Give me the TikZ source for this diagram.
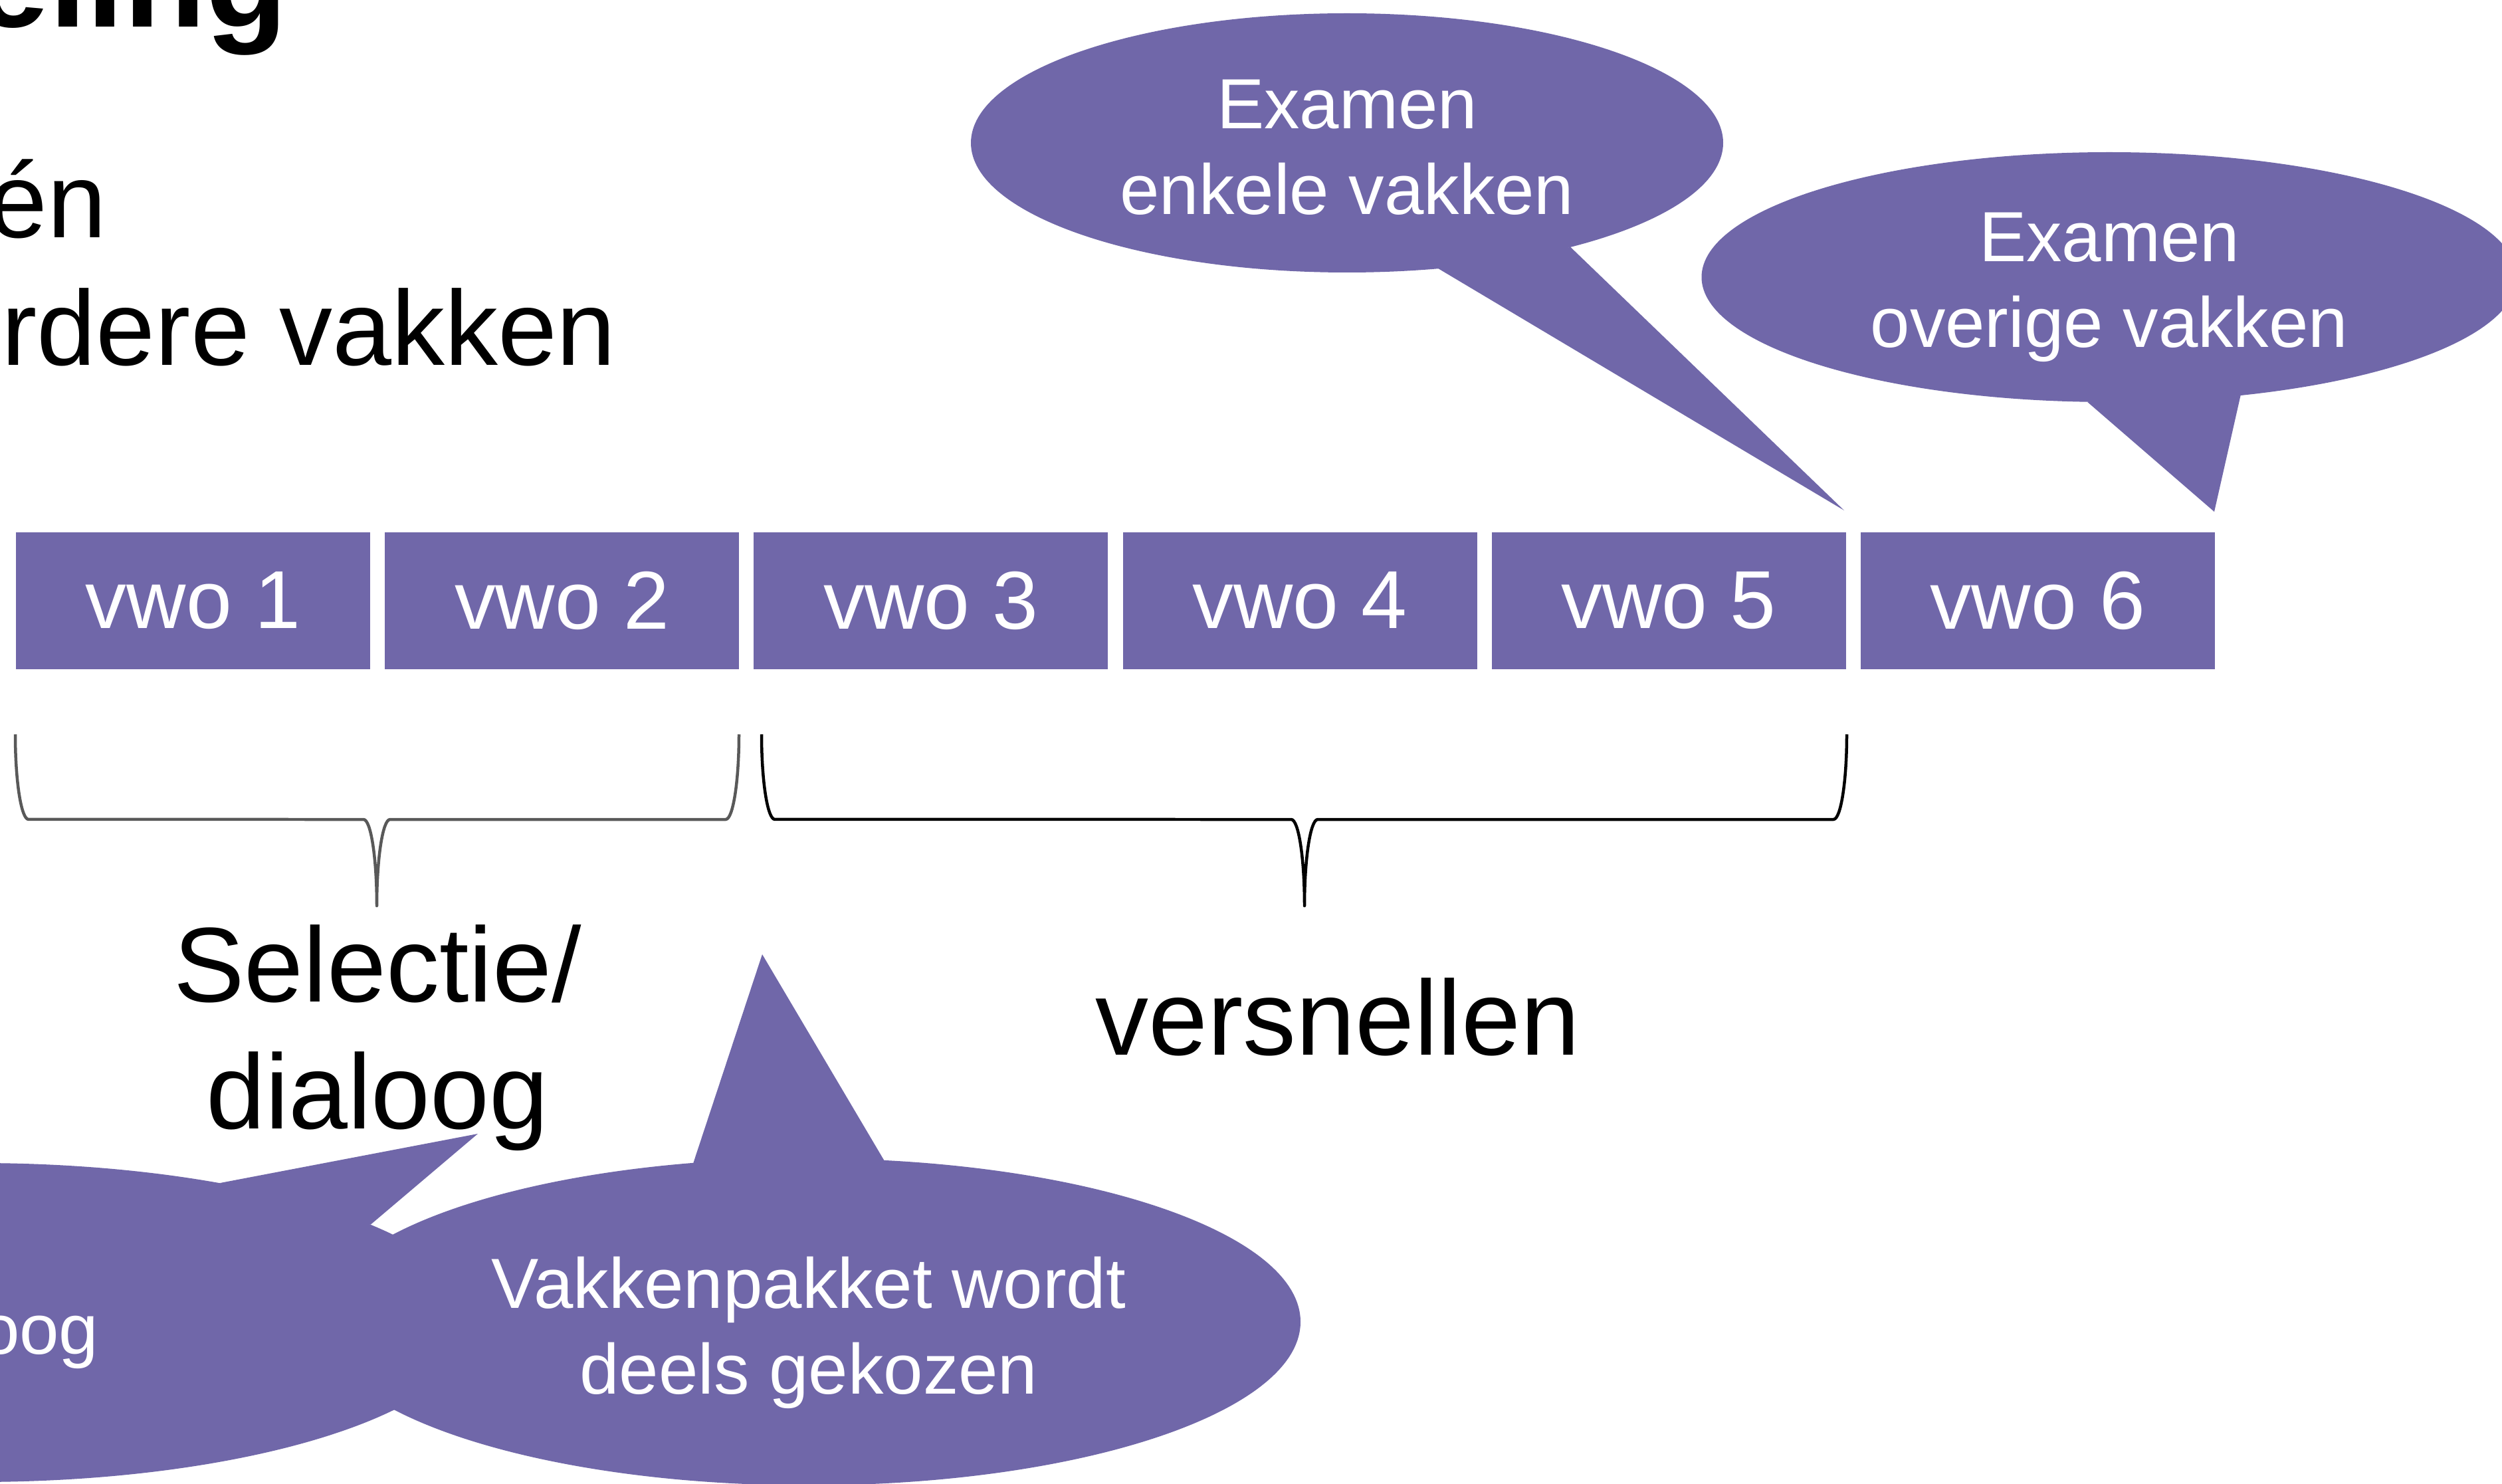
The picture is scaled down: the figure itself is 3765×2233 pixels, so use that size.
\documentclass[tikz,border=0pt]{standalone}
\usepackage{fontspec}
\setmainfont{Liberation Sans}
\usepackage{tikz}
\usetikzlibrary{
  shapes.geometric,
  positioning
}
\definecolor{paars}{RGB}{112,103,169}
\definecolor{grijs}{RGB}{89,89,89}
\tikzset{
  jaar/.style={fill=paars, text=white, minimum width=53.3mm, minimum height=20.6mm,
    inner sep=0pt, outer sep=0pt, font=\fontsize{35.2pt}{42pt}\selectfont},
  ballon/.style={ellipse, fill=paars, inner sep=0pt, outer sep=0pt},
  ballontekst/.style={text=white, inner sep=0pt, align=center,
    font=\fontsize{30.4pt}{36.7pt}\selectfont},
  groot/.style={inner sep=0pt, align=center, font=\fontsize{45.5pt}{54.3pt}\selectfont},
  accolade/.style={line width=0.45mm, line join=round}
}

\begin{document}
\begin{tikzpicture}[x=0.1mm, y=0.1mm]
    \useasboundingbox (0,0) rectangle (3765,-2233);
    \clip (0,0) rectangle (3765,-2233);

    % afgesneden tekst links boven
    \node[inner sep=0pt, anchor=base east, font=\fontsize{57.5pt}{60pt}\selectfont\bfseries] (kop) at (434,-41) {eling};
    \node[groot, anchor=base east] (regel1) at (161,-358) {én};
    \node[groot, anchor=base west] (regel2) at (2,-550) {rdere vakken};

    % leerjaren
    \node[jaar] (v1) at (290.5,-904) {vwo 1};
    \node[jaar, right=2.22mm of v1] (v2) {vwo 2};
    \node[jaar, right=2.22mm of v2] (v3) {vwo 3};
    \node[jaar, right=2.22mm of v3] (v4) {vwo 4};
    \node[jaar, right=2.22mm of v4] (v5) {vwo 5};
    \node[jaar, right=2.22mm of v5] (v6) {vwo 6};

    % accolades
    \draw[accolade, grijs] (23,-1105) arc[start angle=180, end angle=270, x radius=2mm, y radius=12.8mm]
      -- (547,-1233) arc[start angle=90, end angle=0, x radius=2mm, y radius=13mm]
      arc[start angle=180, end angle=90, x radius=2mm, y radius=13mm]
      -- (1092,-1233) arc[start angle=270, end angle=360, x radius=2mm, y radius=12.8mm];
    \draw[accolade, black] (1146,-1105) arc[start angle=180, end angle=270, x radius=2mm, y radius=12.8mm]
      -- (1943,-1233) arc[start angle=90, end angle=0, x radius=2mm, y radius=13mm]
      arc[start angle=180, end angle=90, x radius=2mm, y radius=13mm]
      -- (2759,-1233) arc[start angle=270, end angle=360, x radius=2mm, y radius=12.8mm];

    \node[groot] (selectie) at (568,-1562) {Selectie/\\dialoog};
    \node[groot, anchor=base] (versnellen) at (2013,-1587) {versnellen};

    % ballonnen
    \node[ballon, minimum width=113.2mm, minimum height=39mm] (b1) at (2027,-215) {};
    \coordinate (p1) at (2775,-768);
    \fill[paars] (b1.-54) -- (p1) -- (b1.-25) -- cycle;
    \node[ballontekst] (t1) at ([yshift=-0.7mm]b1.center) {Examen\\enkele vakken};

    \node[ballon, minimum width=122.7mm, minimum height=37.6mm] (b2) at (3174,-417) {};
    \coordinate (p2) at (3332,-770);
    \fill[paars] (b2.-100) -- (p2) -- (b2.-42) -- cycle;
    \node[ballontekst] (t2) at ([yshift=-1.5mm]b2.center) {Examen\\overige vakken};

    \node[ballon, minimum width=149.6mm, minimum height=48mm] (b0) at (-33,-1990) {};
    \coordinate (p0) at (719,-1706);
    \fill[paars] (b0.30) -- (p0) -- (b0.14) -- cycle;
    \node[ballontekst, anchor=base east] (oog) at (149,-2037) {oog};

    \node[ballon, minimum width=148mm, minimum height=49.2mm] (b3) at (1217,-1989) {};
    \coordinate (p3) at (1147,-1436);
    \fill[paars] (b3.126) -- (p3) -- (b3.65) -- cycle;
    \node[ballontekst] (t3) at ([yshift=-1.6mm]b3.center) {Vakkenpakket wordt\\deels gekozen};
\end{tikzpicture}
\end{document}
